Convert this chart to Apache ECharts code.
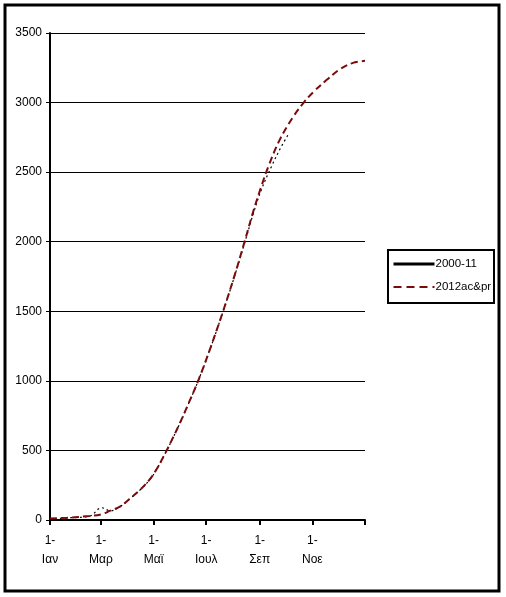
<!DOCTYPE html>
<html>
<head>
<meta charset="utf-8">
<script src="https://cdn.jsdelivr.net/npm/echarts@6/dist/echarts.min.js"></script>
<style>
html,body{margin:0;padding:0;background:#fff;}
#chart{width:506px;height:597px;}
</style>
</head>
<body>
<div id="chart"></div>
<script>
// Day-of-year tick positions and their month labels
const tickDays = [0, 59, 120, 181, 243, 304];
const tickLabels = ['Ιαν', 'Μαρ', 'Μαϊ', 'Ιουλ', 'Σεπ', 'Νοε'];

// Series 2000-11 (black)
const obsDays = [0, 20, 46, 60, 70, 81, 93, 104, 116, 124, 131, 140, 150, 160, 172, 185, 201, 213, 225, 236, 245, 257, 266, 276];
const obsValues = [8, 15, 28, 88, 66, 95, 155, 214, 293, 368, 448, 558, 688, 828, 1004, 1219, 1506, 1735, 1980, 2210, 2375, 2545, 2660, 2770];

// Series 2012ac&pr (dark red dashed)
const prDays = [0, 20, 46, 59, 70, 81, 93, 104, 116, 124, 131, 140, 150, 160, 172, 185, 201, 213, 225, 236, 245, 253, 266, 282, 294, 305, 321, 336, 351, 365];
const prValues = [10, 16, 29, 40, 67, 96, 156, 215, 295, 370, 450, 560, 690, 830, 1006, 1221, 1509, 1740, 1990, 2227, 2400, 2540, 2730, 2900, 3000, 3075, 3165, 3240, 3285, 3300];

const seriesNames = ['2000-11', '2012ac&pr'];

const font = '"Liberation Sans", Arial, sans-serif';

const chart = echarts.init(document.getElementById('chart'), null, {renderer: 'canvas'});
chart.setOption({
  backgroundColor: '#fff',
  animation: false,
  textStyle: {fontFamily: font},
  graphic: [
    {type: 'rect', shape: {x: 5, y: 5, width: 494, height: 586}, style: {fill: 'none', stroke: '#000', lineWidth: 3}, z: 100},
    {type: 'rect', shape: {x: 388, y: 250, width: 106, height: 53}, style: {fill: 'none', stroke: '#000', lineWidth: 2}, z: 100}
  ],
  grid: {left: 50, top: 33, right: 141, bottom: 77, containLabel: false},
  legend: {
    orient: 'vertical',
    left: 392,
    top: 258,
    padding: 0,
    itemGap: 11,
    itemWidth: 41,
    itemHeight: 14,
    textStyle: {fontFamily: font, fontSize: 11.5, color: '#000', padding: [0, 0, 0, -4]},
    data: [
      {name: seriesNames[0], itemStyle: {opacity: 0}, lineStyle: {color: '#000', width: 3, type: 'solid'}},
      {name: seriesNames[1], itemStyle: {opacity: 0}, lineStyle: {color: '#7b0a0a', width: 2, type: [8, 5]}}
    ]
  },
  xAxis: {
    type: 'value',
    min: 0,
    max: 365,
    axisLine: {show: true, lineStyle: {color: '#000', width: 2}},
    axisTick: {show: true, customValues: tickDays.concat([365]), length: 5, lineStyle: {color: '#000', width: 2}},
    splitLine: {show: false},
    axisLabel: {
      customValues: tickDays,
      margin: 11,
      fontFamily: font,
      fontSize: 12,
      color: '#000',
      lineHeight: 19,
      formatter: function (v) {
        const i = tickDays.indexOf(v);
        return i >= 0 ? '1-\n' + tickLabels[i] : '';
      }
    }
  },
  yAxis: {
    type: 'value',
    min: 0,
    max: 3500,
    interval: 500,
    axisLine: {show: true, lineStyle: {color: '#000', width: 2}},
    axisTick: {show: true, length: 4, lineStyle: {color: '#000', width: 1}},
    splitLine: {show: true, lineStyle: {color: '#000', width: 1}},
    axisLabel: {fontFamily: font, fontSize: 12, color: '#000', margin: 8, formatter: function (v) { return String(v); }}
  },
  series: [
    {
      name: seriesNames[0],
      type: 'line',
      smooth: 0.4,
      symbol: 'none',
      z: 2,
      lineStyle: {color: '#000', width: 1.2, type: [2, 3]},
      itemStyle: {color: '#000'},
      data: obsDays.map((d, i) => [d, obsValues[i]])
    },
    {
      name: seriesNames[1],
      type: 'line',
      smooth: 0.4,
      symbol: 'none',
      z: 3,
      lineStyle: {color: '#7b0a0a', width: 2, type: [7, 4]},
      itemStyle: {color: '#7b0a0a'},
      data: prDays.map((d, i) => [d, prValues[i]])
    }
  ]
});
</script>
</body>
</html>
